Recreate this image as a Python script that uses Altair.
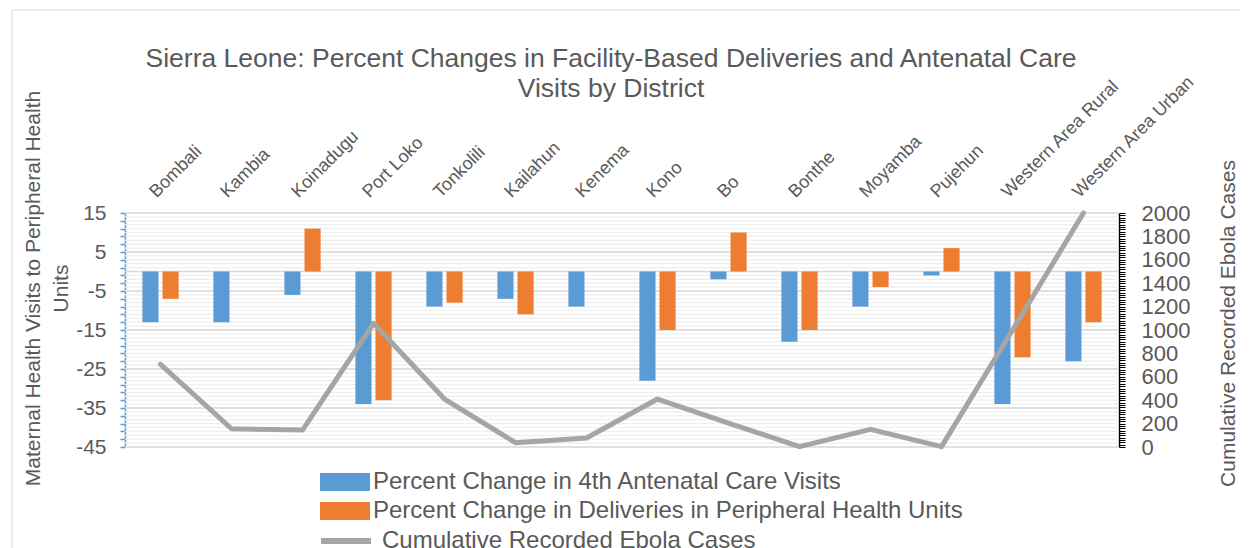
import altair as alt
import pandas as pd

# ---- data ----
districts = ["Bombali", "Kambia", "Koinadugu", "Port Loko", "Tonkolili", "Kailahun",
             "Kenema", "Kono", "Bo", "Bonthe", "Moyamba", "Pujehun",
             "Western Area Rural", "Western Area Urban"]
anc4_change = [-13, -13, -6, -34, -9, -7, -9, -28, -2, -18, -9, -1, -34, -23]
delivery_change = [-7, 0, 11, -33, -8, -11, 0, -15, 10, -15, -4, 6, -22, -13]
ebola_cases = [707, 156, 145, 1057, 410, 37, 77, 410, 205, 3, 151, 3, 1000, 2000]

series_names = ["Percent Change in 4th Antenatal Care Visits",
                "Percent Change in Deliveries in Peripheral Health Units"]
line_name = "Cumulative Recorded Ebola Cases"
left_title = ["Maternal Health Visits to Peripheral Health", "Units"]
right_title = "Cumulative Recorded Ebola Cases"
chart_title = ["Sierra Leone: Percent Changes in Facility-Based Deliveries and Antenatal Care",
               "Visits by District"]

bars_df = pd.DataFrame({
    "district": districts * 2,
    "series": [series_names[0]] * len(districts) + [series_names[1]] * len(districts),
    "value": anc4_change + delivery_change,
})
line_df = pd.DataFrame({"district": districts, "cases": ebola_cases,
                        "series": [line_name] * len(districts)})
minor_df = pd.DataFrame({"g": list(range(-45, 16))})
major_df = pd.DataFrame({"g": [-45, -35, -25, -15, -5, 0, 5, 15]})

W, H = 994, 234
GRAY = "#595959"
FONT = "Liberation Sans"
BLUE, ORANGE, LGRAY = "#5b9bd5", "#ed7d31", "#a5a5a5"

x_axis = alt.Axis(orient="top", labelAngle=315, labelAlign="left", labelBaseline="alphabetic",
                  labelPadding=15, labelOffset=-4, ticks=False, domain=False,
                  labelFontSize=18, labelColor=GRAY, labelFont=FONT, labelLimit=400,
                  title=None, grid=False)
x_enc = alt.X("district:N", sort=districts,
              scale=alt.Scale(paddingInner=0.49, paddingOuter=0.245), axis=x_axis)

left_scale = alt.Scale(domain=[-45, 15], nice=False)

minor = alt.Chart(minor_df).mark_rule(color="#eeeeee", strokeWidth=1.2).encode(
    y=alt.Y("g:Q", scale=left_scale, axis=None))
major = alt.Chart(major_df).mark_rule(color="#d9d9d9", strokeWidth=1.6).encode(
    y=alt.Y("g:Q", scale=left_scale, axis=None))

bars = alt.Chart(bars_df).mark_bar().encode(
    x=x_enc,
    xOffset=alt.XOffset("series:N", sort=series_names, scale=alt.Scale(paddingInner=0.2)),
    y=alt.Y("value:Q", scale=left_scale,
            axis=alt.Axis(orient="left", values=list(range(-45, 16, 2)),
                          labelExpr="(datum.value + 45) % 10 == 0 ? '' + datum.value : ''",
                          labelOverlap=False, domainColor=BLUE, domainWidth=1.5,
                          tickColor=BLUE, tickSize=5, tickWidth=1.5,
                          labelFontSize=21, labelColor=GRAY, labelFont=FONT, labelPadding=14,
                          grid=False, title=left_title, titleFontSize=21, titleAngle=270,
                          titleFontWeight="normal", titleColor=GRAY, titleFont=FONT,
                          titleX=-92, titleY=75, titleAlign="center", titleBaseline="middle",
                          titleLineHeight=28)),
    y2=alt.datum(0),
    color=alt.Color("series:N", scale=alt.Scale(domain=series_names, range=[BLUE, ORANGE]),
                    legend=alt.Legend(orient="none", legendX=208, legendY=257, title=None,
                                      symbolType="M-2.5,-0.9L2.5,-0.9L2.5,0.9L-2.5,0.9Z",
                                      symbolSize=400, symbolStrokeWidth=0, symbolOpacity=1,
                                      labelFontSize=24, labelColor=GRAY, labelFont=FONT,
                                      labelOffset=16, labelLimit=900, rowPadding=5,
                                      padding=0, direction="vertical")),
)

line = alt.Chart(line_df).mark_line(strokeWidth=5, strokeJoin="round", strokeCap="round").encode(
    x=x_enc,
    y=alt.Y("cases:Q", scale=alt.Scale(domain=[0, 2000], nice=False),
            axis=alt.Axis(orient="right", values=list(range(0, 2001, 20)),
                          labelExpr="datum.value % 200 == 0 ? '' + datum.value : ''",
                          labelOverlap=False, domainColor="black", domainWidth=1.5,
                          tickColor="black", tickSize=6, tickWidth=1,
                          labelFontSize=22, labelColor=GRAY, labelFont=FONT, labelPadding=16,
                          grid=False, title=right_title, titleFontSize=21, titleAngle=270,
                          titleFontWeight="normal", titleColor=GRAY, titleFont=FONT,
                          titleX=109, titleY=110, titleAlign="center",
                          titleBaseline="middle")),
    color=alt.Color("series:N", scale=alt.Scale(domain=[line_name], range=[LGRAY]),
                    legend=alt.Legend(orient="none", legendX=208, legendY=315, title=None,
                                      symbolType="M-2.5,0L2.5,0", symbolSize=400,
                                      symbolStrokeWidth=6,
                                      labelFontSize=24, labelColor=GRAY, labelFont=FONT,
                                      labelOffset=23, labelLimit=900, padding=0)),
)

frame_df = pd.DataFrame({"k": [0]})
border_left = alt.Chart(frame_df).mark_rule(color="#d9d9d9", strokeWidth=1).encode(
    x=alt.value(-113), y=alt.value(-203), y2=alt.value(340))
border_top = alt.Chart(frame_df).mark_rule(color="#d9d9d9", strokeWidth=1).encode(
    x=alt.value(-113), x2=alt.value(1130), y=alt.value(-203))

chart = alt.layer(border_left, border_top, minor, major, bars, line).resolve_scale(
    y="independent", color="independent"
).properties(
    width=W, height=H,
    title=alt.Title(chart_title, fontSize=26.5, font=FONT, color=GRAY, fontWeight="normal",
                    anchor="middle", frame="group", orient="top", baseline="bottom",
                    offset=-120, lineHeight=30, dx=-11),
    autosize=alt.AutoSizeParams(type="none"),
    padding={"left": 117, "top": 205, "right": 122, "bottom": 101},
    background="white",
).configure_view(stroke=None)

chart.save("out.html", embed_options={"renderer": "svg", "actions": False})
